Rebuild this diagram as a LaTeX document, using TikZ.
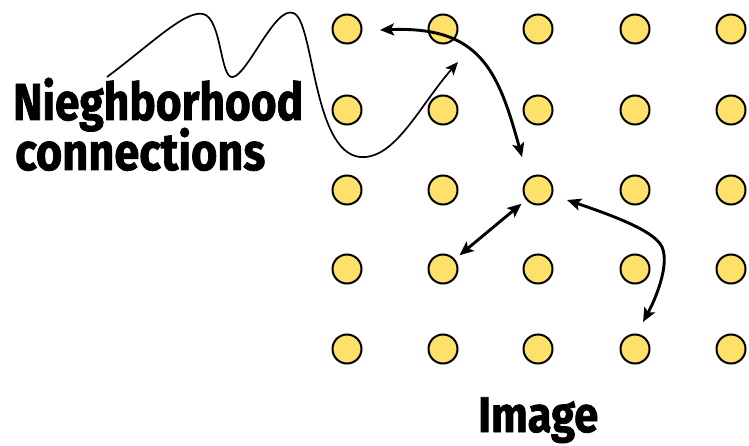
\documentclass[tikz,border=0pt]{standalone}
\usepackage{fontspec}
\setmainfont{Fira Sans}[BoldFeatures={FakeBold=1.6}]
\usetikzlibrary{arrows.meta}
\definecolor{dotfill}{RGB}{253,225,106}
\tikzset{
  dot/.style={circle, draw=black, line width=2pt, fill=dotfill,
              minimum size=29pt, inner sep=0pt},
  link/.style={line width=2.9pt, {Stealth[length=14pt,width=12pt,inset=3pt]}-{Stealth[length=14pt,width=12pt,inset=3pt]}},
  wave/.style={line width=1.7pt, -{Stealth[length=13pt,width=11pt,inset=3pt]}},
  caption/.style={anchor=base west, inner sep=0pt, font=\bfseries}
}
\begin{document}
\begin{tikzpicture}[x=1pt, y=-1pt]
\useasboundingbox (0,0) rectangle (749,446);

% 5 x 5 grid of pixels
\foreach \c/\x in {1/347,2/443,3/538,4/635,5/731}{
  \foreach \r/\y in {1/29,2/110,3/190,4/269,5/349}{
    \node[dot] (c\r\c) at (\x,\y) {};
  }
}

% free ends of the connectors
\coordinate (a1) at (380,30);
\coordinate (a2) at (522,157);
\coordinate (d1) at (567,200);
\coordinate (d2) at (643,322);
\coordinate (w0) at (107,77);
\coordinate (w1) at (458,62);

% neighbourhood links
\draw[link] (a1) .. controls (480,26) and (498,70) .. (a2);
\draw[link, shorten <=6pt, shorten >=6pt] (c42) -- (c33);
\draw[link] (d1) .. controls (620,218) and (655,232) .. (662,247)
            .. controls (670,265) and (655,300) .. (d2);

% wavy pointer from the caption
\draw[wave] (w0) .. controls (150,45) and (185,10) .. (203,14)
  .. controls (222,18) and (220,80) .. (233,77)
  .. controls (248,74) and (275,6) .. (293,13)
  .. controls (314,18) and (312,152) .. (360,157)
  .. controls (395,160) and (420,105) .. (w1);

% captions
\node[caption] (t1) at (13,120)
  {\resizebox{290pt}{\height}{\fontsize{52}{52}\selectfont\bfseries Nieghborhood}};
\node[caption] (t2) at (15,170)
  {\resizebox{250pt}{\height}{\fontsize{52}{52}\selectfont\bfseries connections}};
\node[caption] (t3) at (478,432)
  {\resizebox{120pt}{\height}{\fontsize{50}{50}\selectfont\bfseries Image}};
\end{tikzpicture}
\end{document}
